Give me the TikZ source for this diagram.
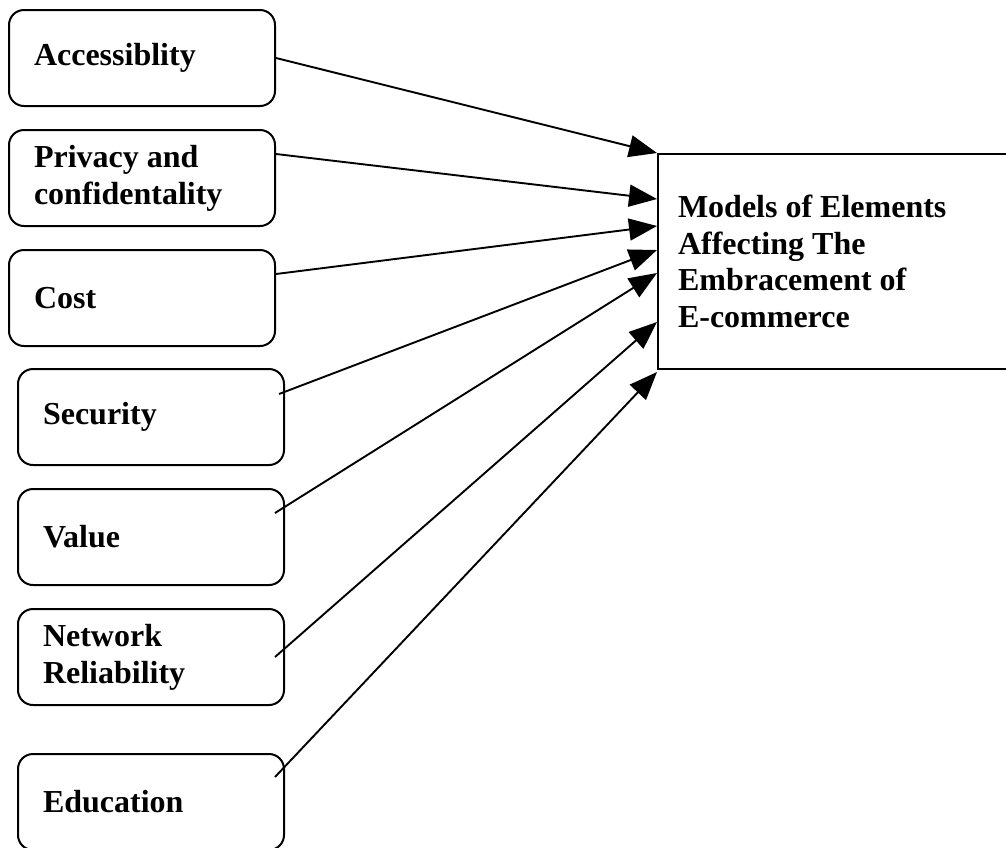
\documentclass[tikz,border=0pt]{standalone}
\usepackage{fontspec}
\setmainfont{Liberation Serif}
\usetikzlibrary{arrows.meta,calc}

\begin{document}
\begin{tikzpicture}[x=1pt,y=-1pt,
  every node/.style={font=\fontsize{32}{36.7}\selectfont\bfseries},
  factor/.style={draw,line width=2pt,rounded corners=15pt,anchor=north west,
    minimum width=266,minimum height=96,inner xsep=25,text width=216,align=flush left},
  model/.style={draw,line width=2pt,anchor=north west,
    minimum width=360,minimum height=215,inner xsep=20,text width=320,align=flush left},
  link/.style={line width=1.9pt,-{Triangle[length=28pt,width=22pt]}}]
\useasboundingbox (0,0) rectangle (1006,847);
% factors on the left
\node[factor] (acc) at (8,9) {Accessiblity};
\node[factor] (priv) at (8,129) {Privacy and\\confidentality};
\node[factor] (cost) at (8,249) {Cost};
\node[factor] (sec) at (17,368) {Security};
\node[factor] (val) at (17,488) {Value};
\node[factor] (net) at (17,608) {Network\\Reliability};
\node[factor] (edu) at (17,753) {Education};
% target box, cut at the right edge
\node[model] (emb) at (657,153) {Models of Elements\\Affecting The\\Embracement of\\E-commerce};
% arrows into the target
\draw[link] (acc.east) -- (emb.north west);
\draw[link] ($(priv.east)+(0,-24)$) -- ($(emb.north west)+(0,46)$);
\draw[link] ($(cost.east)+(0,-24)$) -- ($(emb.north west)+(0,73)$);
\draw[link] ($(sec.east)+(-6,-23)$) -- ($(emb.north west)+(0,97)$);
\draw[link] ($(val.east)+(-10,-24)$) -- ($(emb.north west)+(0,120)$);
\draw[link] ($(net.east)+(-10,0)$) -- ($(emb.north west)+(0,169)$);
\draw[link] ($(edu.east)+(-10,-25)$) -- ($(emb.south west)+(0,2)$);
\end{tikzpicture}
\end{document}
